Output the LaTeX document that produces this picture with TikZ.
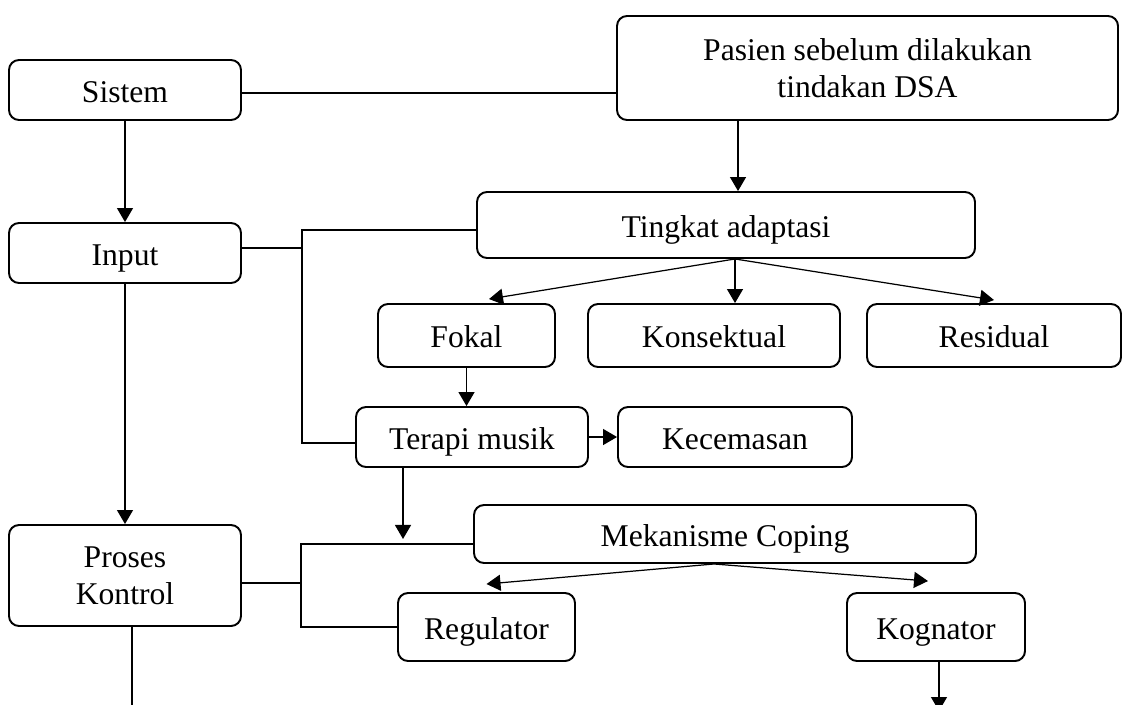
\documentclass[tikz,border=0pt]{standalone}
\usepackage{fontspec}
\setmainfont{Liberation Serif}
\usetikzlibrary{arrows.meta, positioning, calc}

\begin{document}
\begin{tikzpicture}[
    node distance=1.5cm,
    font=\fontsize{18pt}{21pt}\selectfont,
    box/.style={rectangle, draw, rounded corners=0.2cm, line width=1.1pt, align=center, inner sep=2pt},
    line1/.style={box, text height=17pt, text depth=3pt},
    stdbox/.style={line1, minimum width=4.64cm, minimum height=1.2cm},
    arrow/.style={-{Triangle[length=0.28cm, width=0.32cm]}, line width=0.7pt},
    link/.style={line width=1.1pt}
]
    \useasboundingbox (0,0) rectangle (22.44,-14.08);
    \clip (0,0) rectangle (22.44,-14.08);

    % Left column
    \node[stdbox] (sistem) at (2.50,-1.80) {Sistem};
    \node[stdbox, below of=sistem, yshift=-1.76cm] (input) {Input};
    \node[box, minimum width=4.64cm, minimum height=2.02cm, below of=input, yshift=-4.95cm] (proses) {Proses\\Kontrol};

    % Patient
    \node[box, minimum width=10.02cm, minimum height=2.08cm, right of=sistem, xshift=13.35cm, yshift=0.44cm] (pasien) {Pasien sebelum dilakukan\\tindakan DSA};

    % Adaptation level
    \node[line1, minimum width=9.96cm, minimum height=1.32cm, below of=pasien, xshift=-2.83cm, yshift=-1.64cm] (tingkat) {Tingkat adaptasi};
    \node[line1, minimum width=5.04cm, minimum height=1.26cm, below of=tingkat, xshift=-0.24cm, yshift=-0.71cm] (konsektual) {Konsektual};
    \node[line1, minimum width=3.54cm, minimum height=1.26cm, left of=konsektual, xshift=-3.45cm] (fokal) {Fokal};
    \node[line1, minimum width=5.08cm, minimum height=1.26cm, right of=konsektual, xshift=4.10cm] (residual) {Residual};

    % Intervention
    \node[stdbox, below of=fokal, xshift=0.11cm, yshift=-0.53cm] (terapi) {Terapi musik};
    \node[stdbox, minimum width=4.68cm, right of=terapi, xshift=3.76cm] (kecemasan) {Kecemasan};

    % Coping
    \node[line1, minimum width=10.04cm, minimum height=1.16cm, below of=kecemasan, xshift=-0.20cm, yshift=-0.44cm] (mekanisme) {Mekanisme Coping};
    \node[line1, minimum width=3.54cm, minimum height=1.36cm, below of=terapi, xshift=0.29cm, yshift=-2.30cm] (regulator) {Regulator};
    \node[line1, minimum width=3.56cm, minimum height=1.36cm, right of=regulator, xshift=7.49cm] (kognator) {Kognator};

    % Helper points
    \coordinate (inA) at ([yshift=0.1cm]input.east);
    \coordinate (busA) at ([xshift=1.2cm]inA);
    \coordinate (prB) at ([yshift=-0.15cm]proses.east);
    \coordinate (busB) at ([xshift=1.18cm]prB);
    \coordinate (pt) at ([xshift=0.24cm]tingkat.north);
    \coordinate (fan1) at ([xshift=0.18cm]tingkat.south);
    \coordinate (fan2) at ([xshift=-0.22cm]mekanisme.south);
    \coordinate (tmid) at ([xshift=-1.38cm]terapi.south);
    \coordinate (tend) at ([yshift=-1.42cm]tmid);
    \coordinate (bottom) at (0,-14.22);
    \coordinate (pstart) at ([xshift=0.14cm]proses.south);
    \coordinate (kstart) at ([xshift=0.06cm]kognator.south);

    % Lines
    \draw[link] ([yshift=-0.06cm]sistem.east) -- ([yshift=-0.06cm]sistem.east -| pasien.west);
    \draw[link] (inA) -- (busA);
    \draw[link] ([yshift=-0.1cm]tingkat.west) -| (busA) |- ([yshift=-0.12cm]terapi.west);
    \draw[link] (prB) -- (busB);
    \draw[link] ([yshift=-0.2cm]mekanisme.west) -| (busB) |- (regulator.west);
    \draw[link] (pstart) -- (pstart |- bottom);

    % Arrows
    \draw[arrow] (sistem) -- (input);
    \draw[arrow] (input) -- (proses);
    \draw[arrow] (pt |- pasien.south) -- (pt);
    \draw[arrow] (fan1) -- ([xshift=0.45cm, yshift=0.08cm]fokal.north);
    \draw[arrow] (fan1) -- (fan1 |- konsektual.north);
    \draw[arrow] (fan1) -- ([yshift=0.06cm]residual.north);
    \draw[arrow] (fokal) -- (fokal |- terapi.north);
    \draw[arrow] (terapi) -- (kecemasan);
    \draw[arrow] (tmid) -- (tend);
    \draw[arrow] (fan2) -- ([yshift=0.16cm]regulator.north);
    \draw[arrow] (fan2) -- ([xshift=-0.16cm, yshift=0.22cm]kognator.north);
    \draw[arrow] (kstart) -- (kstart |- bottom);
\end{tikzpicture}
\end{document}
